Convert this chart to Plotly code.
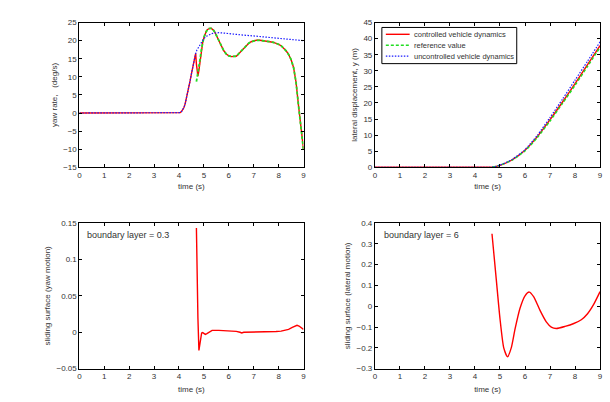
import plotly.graph_objects as go

# ---- yaw rate (deg/s) ----
t_yaw_ctrl = [0, 4.0, 4.05, 4.1, 4.15, 4.2, 4.25, 4.3, 4.35, 4.4, 4.45, 4.5, 4.55, 4.6, 4.64, 4.67, 4.70, 4.73, 4.76,
              4.8, 4.85, 4.9, 4.95, 5.0, 5.05, 5.1, 5.15, 5.2, 5.25, 5.3, 5.35, 5.4, 5.45, 5.5, 5.6, 5.7, 5.8, 5.9,
              6.0, 6.1, 6.2, 6.3, 6.4, 6.5, 6.6, 6.7, 6.8, 6.9, 7.0, 7.1, 7.25, 7.4, 7.5, 7.65, 7.8, 7.9, 8.0, 8.1,
              8.2, 8.3, 8.4, 8.5, 8.6, 8.7, 8.8, 8.9, 9.0]
yaw_ctrl = [0, 0, 0.1, 0.4, 0.9, 1.5, 2.6, 4.0, 5.5, 7.2, 9.0, 10.8, 12.7, 14.5, 15.8, 16.5, 13.5, 10.5, 10.2,
            11.8, 14.8, 17.5, 19.4, 20.8, 21.9, 22.7, 23.1, 23.35, 23.45, 23.4, 23.2, 22.8, 22.2, 21.5, 20.0, 18.5,
            17.2, 16.3, 15.8, 15.6, 15.55, 15.7, 16.4, 17.2, 18.0, 18.8, 19.3, 19.7, 20.0, 20.1, 20.1, 20.0, 19.9,
            19.7, 19.5, 19.3, 19.0, 18.6, 18.0, 17.2, 16.2, 14.8, 12.6, 8.5, 2.0, -4.0, -10.0]
t_yaw_ref = [4.70, 4.73, 4.76, 4.8, 4.85, 4.9, 4.95, 5.0, 5.05, 5.1, 5.15, 5.2, 5.25, 5.3, 5.35, 5.4, 5.45, 5.5, 5.6,
             5.7, 5.8, 5.9, 6.0, 6.1, 6.2, 6.3, 6.4, 6.5, 6.6, 6.7, 6.8, 6.9, 7.0, 7.1, 7.25, 7.4, 7.5, 7.65, 7.8,
             7.9, 8.0, 8.1, 8.2, 8.3, 8.4, 8.5, 8.6, 8.7, 8.8, 8.9, 9.0]
yaw_ref = [8.7, 9.8, 10.6, 12.2, 15.0, 17.6, 19.5, 20.9, 21.9, 22.7, 23.1, 23.35, 23.45, 23.4, 23.2, 22.8, 22.2, 21.5,
           20.0, 18.5, 17.2, 16.3, 15.8, 15.6, 15.55, 15.7, 16.4, 17.2, 18.0, 18.8, 19.3, 19.7, 20.0, 20.1, 20.1, 20.0,
           19.9, 19.7, 19.5, 19.3, 19.0, 18.6, 18.0, 17.2, 16.2, 14.8, 12.6, 8.5, 2.0, -4.2, -10.3]
t_yaw_unc = [0, 4.0, 4.05, 4.1, 4.15, 4.2, 4.25, 4.3, 4.35, 4.4, 4.45, 4.5, 4.55, 4.6, 4.64, 4.67, 4.72, 4.8, 4.9, 5.0,
             5.1, 5.2, 5.3, 5.4, 5.5, 5.6, 5.8, 6.0, 6.5, 7.0, 7.5, 8.0, 8.5, 9.0]
yaw_unc = [0, 0, 0.1, 0.4, 0.9, 1.5, 2.6, 4.0, 5.5, 7.2, 9.0, 10.8, 12.7, 14.5, 15.8, 16.5, 17.4, 18.3, 19.6, 20.6,
           21.2, 21.6, 21.9, 22.1, 22.2, 22.2, 22.1, 21.9, 21.6, 21.3, 21.0, 20.7, 20.3, 20.0]

# ---- lateral displacement (m) ----
t_lat = [0, 4.5, 4.7, 5.0, 5.5, 6.0, 6.5, 7.0, 7.5, 8.0, 8.5, 9.0]
lat_ctrl = [0, 0, 0.05, 0.6, 2.4, 5.3, 9.6, 14.8, 20.3, 26.0, 31.9, 37.8]
lat_unc = [0, 0, 0.05, 0.65, 2.5, 5.5, 10.0, 15.5, 21.2, 27.1, 33.0, 39.0]
t_lat_ref = [4.7, 5.0, 5.5, 6.0, 6.5, 7.0, 7.5, 8.0, 8.5, 9.0]
lat_ref = [0.05, 0.6, 2.3, 5.1, 9.3, 14.4, 19.9, 25.5, 31.4, 37.3]

# ---- sliding surface (yaw motion) ----
t_s_yaw = [4.70, 4.72, 4.76, 4.80, 4.83, 4.87, 4.91, 4.95, 5.0, 5.06, 5.12, 5.2, 5.33, 5.6, 6.0, 6.3, 6.45, 6.52, 6.6,
           6.8, 7.0, 7.5, 7.9, 8.1, 8.25, 8.4, 8.55, 8.65, 8.74, 8.82, 8.9, 9.0]
s_yaw = [0.143, 0.09, 0.02, -0.025, -0.018, -0.006, -0.001, -0.0005, -0.002, -0.003, -0.002, 0.0, 0.0025, 0.0025,
         0.002, 0.0012, 0.0, -0.001, 0.0, 0.0, 0.0, 0.0005, 0.001, 0.0015, 0.0025, 0.004, 0.0065, 0.0085, 0.0095,
         0.0085, 0.006, 0.004]

# ---- sliding surface (lateral motion) ----
t_s_lat = [4.68, 4.85, 5.0, 5.15, 5.3, 5.45, 5.6, 5.8, 6.0, 6.17, 6.35, 6.6, 6.85, 7.05, 7.25, 7.6, 7.95, 8.25, 8.5,
           8.75, 9.0]
s_lat = [0.348, 0.13, -0.06, -0.2, -0.243, -0.2, -0.11, -0.01, 0.05, 0.068, 0.045, -0.02, -0.075, -0.1, -0.107, -0.097,
         -0.083, -0.065, -0.036, 0.01, 0.07]

x_ticks = list(range(0, 10))
legend_names = ["controlled vehicle dynamics", "reference value", "uncontrolled vehicle dynamics"]

RED = "#ff0000"
GREEN = "#22dd22"
BLUE = "#1a1aff"
TXT = "#333"
FONT = "Liberation Sans, Arial, sans-serif"
DASH_G = "3px,2px"
DOT_B = "1.5px,1.5px"

fig = go.Figure()

def add(x, y, xa, ya, color, dash, width=1.3, shape="linear"):
    fig.add_trace(go.Scatter(x=x, y=y, xaxis=xa, yaxis=ya, mode="lines", showlegend=False, hoverinfo="skip",
                             line=dict(color=color, dash=dash, width=width, shape=shape, smoothing=0.6)))

# panel 1
add(t_yaw_ctrl, yaw_ctrl, "x", "y", RED, "solid", 1.4)
add(t_yaw_ref, yaw_ref, "x", "y", GREEN, DASH_G, 1.8)
add(t_yaw_unc, yaw_unc, "x", "y", BLUE, DOT_B, 1.2)
# panel 2
add(t_lat, lat_ctrl, "x2", "y2", RED, "solid", 1.4, "spline")
add(t_lat_ref, lat_ref, "x2", "y2", GREEN, DASH_G, 1.5, "spline")
add(t_lat, lat_unc, "x2", "y2", BLUE, DOT_B, 1.2, "spline")
# panel 3
add(t_s_yaw, s_yaw, "x3", "y3", RED, "solid", 1.4)
# panel 4
add(t_s_lat, s_lat, "x4", "y4", RED, "solid", 1.4, "spline")

axis_common = dict(showline=True, linecolor="black", linewidth=1, mirror="ticks", ticks="inside", ticklen=3,
                   tickcolor="black", showgrid=False, zeroline=False, tickfont=dict(size=8, color=TXT),
                   title_font=dict(size=8, color=TXT))

xl = [78/610, 304/610]
xr = [376/610, 603/610]
yt = [1-167/402, 1-19/402]
yb = [1-373/402, 1-224/402]

def px(x):
    return x / 610
def py(y):
    return 1 - y / 402

shapes = [dict(type="rect", xref="paper", yref="paper", x0=px(383), x1=px(519), y0=py(61), y1=py(24),
               line=dict(color="black", width=1), fillcolor="white", layer="above")]
annotations = []
leg_styles = [(RED, "solid", 1.4), (GREEN, DASH_G, 1.5), (BLUE, DOT_B, 1.2)]
row_y = [31, 42.3, 53.3]
for name, (c, d, w), ry in zip(legend_names, leg_styles, row_y):
    shapes.append(dict(type="line", xref="paper", yref="paper", x0=px(387), x1=px(411), y0=py(ry), y1=py(ry),
                       line=dict(color=c, dash=d, width=w), layer="above"))
    annotations.append(dict(text=name, xref="paper", yref="paper", x=px(413), y=py(ry), xanchor="left",
                            yanchor="middle", showarrow=False, font=dict(size=7.5, color=TXT)))

annotations += [
    dict(text="boundary layer = 0.3", xref="x3 domain", yref="y3 domain", x=0.025, y=0.92, xanchor="left",
         yanchor="middle", showarrow=False, font=dict(size=9, color=TXT)),
    dict(text="boundary layer = 6", xref="x4 domain", yref="y4 domain", x=0.03, y=0.92, xanchor="left",
         yanchor="middle", showarrow=False, font=dict(size=9, color=TXT)),
]

fig.update_layout(
    width=610, height=402, margin=dict(l=0, r=0, t=0, b=0),
    paper_bgcolor="white", plot_bgcolor="white", showlegend=False,
    font=dict(family=FONT, size=8, color=TXT),
    xaxis=dict(domain=xl, anchor="y", range=[0, 9], tickvals=x_ticks, title=dict(text="time (s)", standoff=4), **axis_common),
    yaxis=dict(domain=yt, anchor="x", range=[-15, 25], dtick=5, title=dict(text="yaw rate,   (deg/s)", standoff=4), **axis_common),
    xaxis2=dict(domain=xr, anchor="y2", range=[0, 9], tickvals=x_ticks, title=dict(text="time (s)", standoff=4), **axis_common),
    yaxis2=dict(domain=yt, anchor="x2", range=[0, 45], dtick=5, title=dict(text="lateral displacement, y (m)", standoff=4), **axis_common),
    xaxis3=dict(domain=xl, anchor="y3", range=[0, 9], tickvals=x_ticks, title=dict(text="time (s)", standoff=6), **axis_common),
    yaxis3=dict(domain=yb, anchor="x3", range=[-0.05, 0.15], dtick=0.05, title=dict(text="sliding surface (yaw motion)", standoff=4), **axis_common),
    xaxis4=dict(domain=xr, anchor="y4", range=[0, 9], tickvals=x_ticks, title=dict(text="time (s)", standoff=6), **axis_common),
    yaxis4=dict(domain=yb, anchor="x4", range=[-0.3, 0.4], dtick=0.1, title=dict(text="sliding surface (lateral motion)", standoff=4), **axis_common),
    shapes=shapes,
    annotations=annotations,
)

fig.write_html("out.html")
